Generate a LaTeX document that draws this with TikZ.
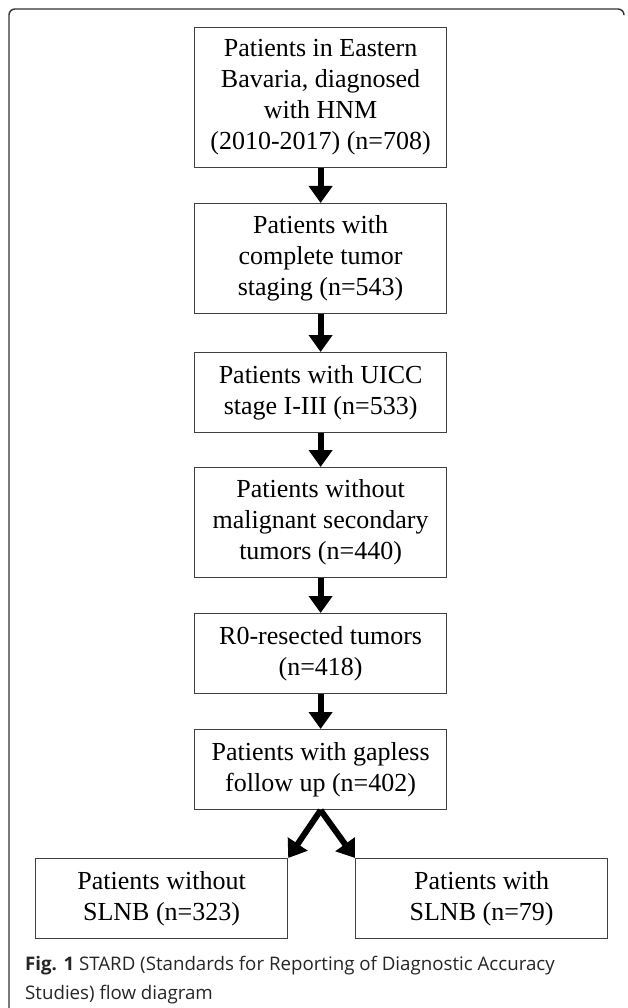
\documentclass[tikz,border=0pt]{standalone}
\usepackage{fontspec}
\setmainfont{Liberation Serif}
\newfontfamily\capfont{Open Sans}
\usetikzlibrary{arrows.meta}

\tikzset{
  stardbox/.style={rectangle, draw=black!75, line width=1.2pt, fill=white, minimum width=252pt, anchor=north west, align=center, font=\fontsize{26}{31}\selectfont, inner sep=0pt},
  flowarrow/.style={line width=6pt, -{Triangle[width=23pt,length=17pt]}},
}

\begin{document}
\begin{tikzpicture}[x=1pt, y=-1pt]

\useasboundingbox (0,0) rectangle (627,1008);

%% outer frame of the figure
\draw[black!80, line width=1.4pt, rounded corners=6pt] (9,1008) -- (9,9) -- (624,9) -- (624,14);

\node at (194,27) [stardbox, minimum height=140pt] (hnm) {Patients in Eastern\\Bavaria, diagnosed\\with HNM\\(2010-2017) (n=708)};
\node at (194,203) [stardbox, minimum height=110pt] (staging) {Patients with\\complete tumor\\staging (n=543)};
\node at (194,352) [stardbox, minimum height=80pt] (uicc) {Patients with UICC\\stage I-III (n=533)};
\node at (194,467) [stardbox, minimum height=110pt] (nosec) {Patients without\\malignant secondary\\tumors (n=440)};
\node at (194,613) [stardbox, minimum height=80pt] (rzero) {R0-resected tumors\\(n=418)};
\node at (194,729) [stardbox, minimum height=80pt] (gapless) {Patients with gapless\\follow up (n=402)};

\node at (35,858) [stardbox, minimum height=80pt] (noslnb) {Patients without\\SLNB (n=323)};
\node at (355,858) [stardbox, minimum height=80pt] (slnb) {Patients with\\SLNB (n=79)};

\node at (25,956) [anchor=north west, align=left, inner sep=0pt, font=\capfont\fontsize{18.7}{29}\selectfont, text=black!85] (caption) {\textbf{Fig. 1} STARD (Standards for Reporting of Diagnostic Accuracy\\Studies) flow diagram};

\draw[flowarrow] (hnm.south) -- (staging.north);
\draw[flowarrow] (staging.south) -- (uicc.north);
\draw[flowarrow] (uicc.south) -- (nosec.north);
\draw[flowarrow] (nosec.south) -- (rzero.north);
\draw[flowarrow] (rzero.south) -- (gapless.north);
\draw[flowarrow] (gapless.south) -- (noslnb.north east);
\draw[flowarrow] (gapless.south) -- (slnb.north west);

\end{tikzpicture}
\end{document}
